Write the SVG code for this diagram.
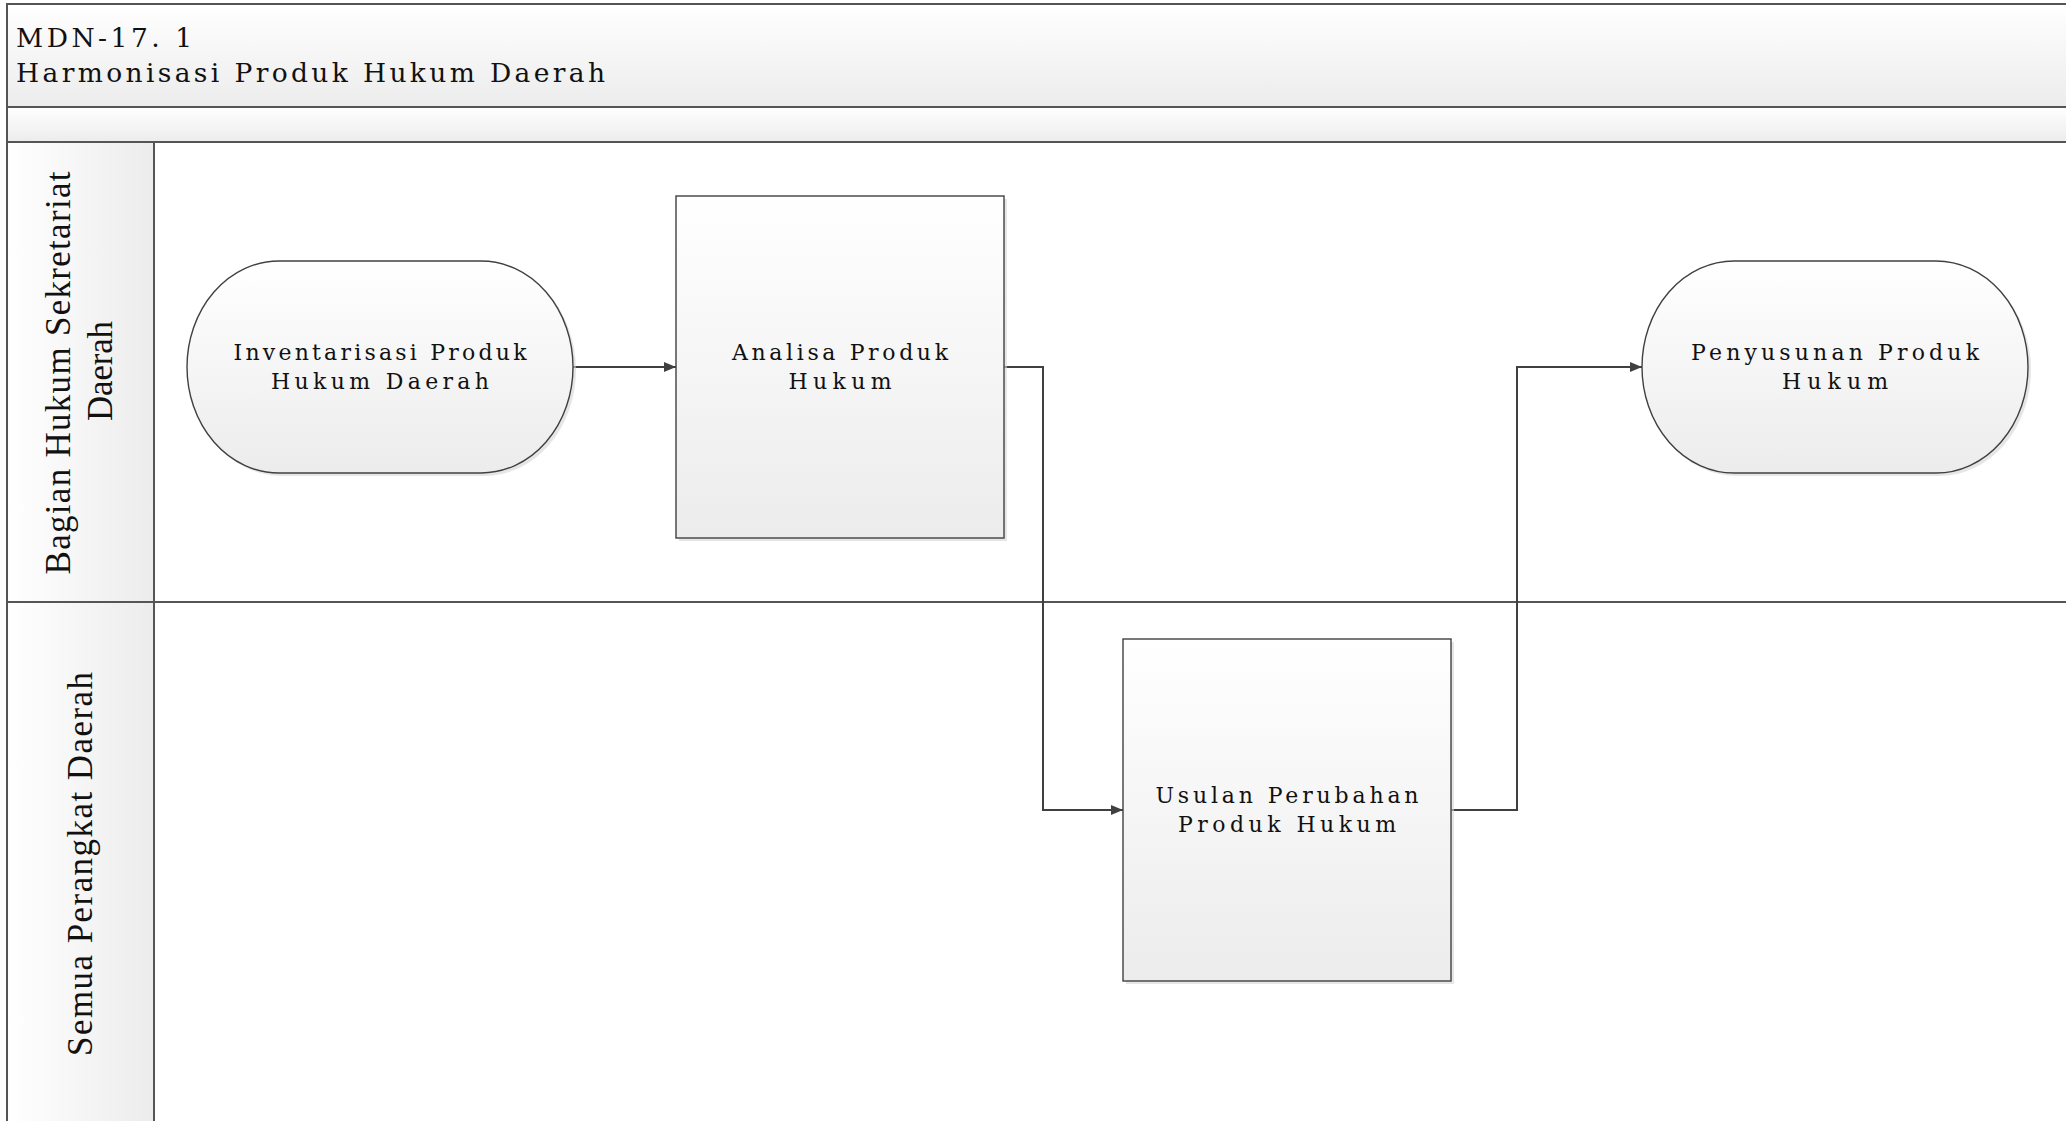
<svg xmlns="http://www.w3.org/2000/svg" width="2066" height="1121" viewBox="0 0 2066 1121">
<defs>
<linearGradient id="gV" x1="0" y1="0" x2="0" y2="1"><stop offset="0" stop-color="#ffffff"/><stop offset="1" stop-color="#ececec"/></linearGradient>
<linearGradient id="gH" x1="0" y1="0" x2="1" y2="0"><stop offset="0" stop-color="#ffffff"/><stop offset="1" stop-color="#ececec"/></linearGradient>
<marker id="arr" markerUnits="userSpaceOnUse" markerWidth="14" markerHeight="12" refX="12" refY="5" orient="auto"><path d="M0,0 L12,5 L0,10 z" fill="#404040"/></marker>
</defs>
<style>
.t{font-family:"DejaVu Serif","Liberation Serif",serif;fill:#111}
.title{font-size:26.5px}
.lane{font-family:"Liberation Serif","DejaVu Serif",serif;font-size:35px}
.nt{font-size:22px;text-anchor:middle}
.ln{stroke:#555;stroke-width:2;fill:none}
.shape{fill:url(#gV);stroke:#404040;stroke-width:1.4}
.shadow{fill:#d6d6d6;opacity:0.6}
.con{fill:none;stroke:#404040;stroke-width:2;marker-end:url(#arr)}
</style>
<rect width="2066" height="1121" fill="#ffffff"/>
<g id="pool">
<rect x="7" y="4" width="2066" height="103" fill="url(#gV)"/>
<rect x="7" y="107" width="2066" height="35" fill="url(#gV)"/>
<rect x="7" y="142" width="147" height="460" fill="url(#gH)"/>
<rect x="7" y="602" width="147" height="525" fill="url(#gH)"/>
<path class="ln" d="M7,1121 V4 H2066 M7,107 H2066 M7,142 H2066 M154,142 V1121 M7,602 H2066"/>
<text class="t title" x="16" y="47" textLength="176">MDN-17. 1</text>
<text class="t title" x="16" y="82" textLength="589">Harmonisasi Produk Hukum Daerah</text>
</g>
<g id="lane1">
<text class="t lane" text-anchor="middle" transform="translate(70,373) rotate(-90)" textLength="403">Bagian Hukum Sekretariat</text>
<text class="t lane" text-anchor="middle" transform="translate(112,371) rotate(-90)" textLength="100">Daerah</text>
</g>
<g id="lane2">
<text class="t lane" text-anchor="middle" transform="translate(92,864) rotate(-90)" textLength="384">Semua Perangkat Daerah</text>
</g>
<g id="connectors">
<path class="con" d="M573,367 H676"/>
<path class="con" d="M1004,367 H1043 V810 H1123"/>
<path class="con" d="M1451,810 H1517 V367 H1642"/>
</g>
<g id="n1">
<rect class="shadow" x="190" y="264" width="386" height="212" rx="92" ry="106"/>
<rect class="shape" x="187" y="261" width="386" height="212" rx="92" ry="106"/>
<text class="t nt" x="380" y="360" textLength="293">Inventarisasi Produk</text>
<text class="t nt" x="380" y="389" textLength="218">Hukum Daerah</text>
</g>
<g id="n2">
<rect class="shadow" x="679" y="199" width="328" height="342"/>
<rect class="shape" x="676" y="196" width="328" height="342"/>
<text class="t nt" x="840" y="360" textLength="216">Analisa Produk</text>
<text class="t nt" x="840" y="389" textLength="103">Hukum</text>
</g>
<g id="n3">
<rect class="shadow" x="1126" y="642" width="328" height="342"/>
<rect class="shape" x="1123" y="639" width="328" height="342"/>
<text class="t nt" x="1287" y="803" textLength="263">Usulan Perubahan</text>
<text class="t nt" x="1287" y="832" textLength="218">Produk Hukum</text>
</g>
<g id="n4">
<rect class="shadow" x="1645" y="264" width="386" height="212" rx="92" ry="106"/>
<rect class="shape" x="1642" y="261" width="386" height="212" rx="92" ry="106"/>
<text class="t nt" x="1835" y="360" textLength="288">Penyusunan Produk</text>
<text class="t nt" x="1835" y="389" textLength="106">Hukum</text>
</g>
</svg>
